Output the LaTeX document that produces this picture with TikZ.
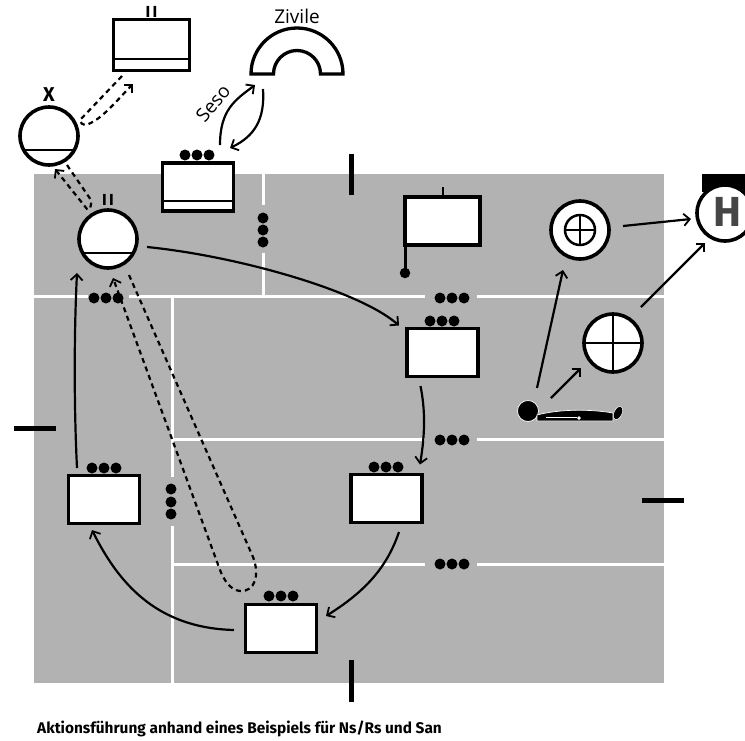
\documentclass[tikz,border=0pt]{standalone}
\usepackage{fontspec}
\setmainfont{Open Sans}
\newfontfamily\captionfont{Fira Sans}
\usetikzlibrary{arrows.meta}
\definecolor{terrain}{gray}{0.7}
\definecolor{hfill}{gray}{0.27}
\tikzset{%
    x=1pt,%
    y=-1pt,%
    >={Straight Barb[length=6pt,width=12pt,line width=1.8pt]},%
    unit/.style={%
        draw=black,%
        fill=white,%
        line width=3.3pt,%
        inner sep=0pt,%
        outer sep=0pt,%
        minimum width=71pt,%
        minimum height=48pt%
    },%
    post/.style={%
        unit,%
        circle,%
        line width=3.6pt,%
        minimum size=58pt%
    },%
    chord/.style={%
        path picture={%
            \draw[line width=2.5pt] ([yshift=-14pt]path picture bounding box.west) -- ([yshift=-14pt]path picture bounding box.east);%
        }%
    },%
    crosshair/.style={%
        path picture={%
            \draw[line width=2pt] (path picture bounding box.west) -- (path picture bounding box.east);%
            \draw[line width=2pt] (path picture bounding box.north) -- (path picture bounding box.south);%
        }%
    },%
    flow/.style={->,line width=2.2pt},%
    assist/.style={->,line width=2.2pt,dash pattern=on 5pt off 4pt},%
    lane/.style={white,line width=3pt},%
    boundary/.style={line width=5pt},%
    dot/.style={circle,fill=black,inner sep=0pt,minimum size=11pt},%
    rank/.style={font=\captionfont\bfseries\fontsize{16}{16}\selectfont,inner sep=0pt}%
}

\begin{document}
\begin{tikzpicture}
    \useasboundingbox (0,0) rectangle (745,740);
    \fill[terrain] (34,174) rectangle (664,683);
    % lanes
    \draw[lane] (263,174) -- (263,205) (263,253) -- (263,296);
    \draw[lane] (34,296) -- (88,296) (129,296) -- (425,296) (477,296) -- (664,296);
    \draw[lane] (172,296) -- (172,477) (172,526) -- (172,683);
    \draw[lane] (172,439) -- (425,439) (477,439) -- (664,439);
    \draw[lane] (172,564) -- (425,564) (477,564) -- (664,564);
    % boundary marks
    \draw[boundary] (351,154) -- (351,195);
    \draw[boundary] (14,428) -- (56,428);
    \draw[boundary] (642,500) -- (684,500);
    \draw[boundary] (351,660) -- (351,702);
    % dots
    \foreach \x/\y in {94/298,106/298,118/298,
        440/298,452/298,464/298,
        440/440,452/440,464/440,
        440/564,452/564,464/564,
        185/155,197/155,209/155,
        430/321,442/321,454/321,
        374/467,386/467,398/467,
        92/468,104/468,116/468,
        269/596,281/596,293/596,
        263/218,263/230,263/242,
        171/489,171/502,171/514} {
        \node[dot] at (\x,\y) {};
    }
    % units
    \node[unit,chord,minimum width=76pt,minimum height=51pt] (staff) at (151.5,45) {};
    \node[unit,chord] (reserve) at (198,187) {};
    \node[post,chord] (command) at (49,136) {};
    \node[post,chord] (battalion) at (108,239) {};
    \node[unit,minimum width=75pt] (flag) at (442.5,221) {};
    \node[unit] (alpha) at (442.5,352.5) {};
    \node[unit] (bravo) at (386.5,498.5) {};
    \node[unit] (charlie) at (281,628.5) {};
    \node[unit] (delta) at (104,499.5) {};
    \node[rank] (staffrank) at (151.5,12) {I\kern2.5pt I};
    \node[rank] (battalionrank) at (108,200) {I\kern2.5pt I};
    \node[font=\captionfont\bfseries\fontsize{20}{20}\selectfont,inner sep=0pt] (commandrank) at (49,95) {X};
    \draw[line width=2pt] (flag.north) -- ++(0,-10);
    \draw[line width=3pt] (flag.south west) -- ++(0,28);
    \node[dot,minimum size=10.5pt] (flagfoot) at (405,273) {};
    % arch
    \draw[unit] (251,74) arc[start angle=180,end angle=360,radius=46] -- (320.5,74)
        arc[start angle=0,end angle=-180,radius=23.5] -- cycle;
    \coordinate (arch) at (297,74);
    \node[font=\fontsize{19}{19}\selectfont,inner sep=0pt] (civil) at (297,16) {Zivile};
    \node[font=\fontsize{19}{19}\selectfont,inner sep=0pt,rotate=50] (link) at (213,103) {Seso};
    % medical
    \fill[black] (702,174) rectangle (745,192);
    \node[post,minimum size=56pt] (hospital) at (725,213) {};
    \node[text=hfill,font=\captionfont\fontsize{42}{42}\selectfont\bfseries,inner sep=0pt] (hletter) at (727,212) {H};
    \node[post] (clearing) at (580,230) {};
    \node[unit,circle,crosshair,line width=2.5pt,minimum size=30pt] (clearingcross) at (580,230) {};
    \node[post,crosshair] (aidpost) at (613,343) {};
    \node[circle,fill=black,draw=white,line width=0.7pt,inner sep=0pt,minimum size=21pt] (casualty) at (528,411) {};
    \draw[fill=black,draw=white,line width=0.7pt] (537,421) -- (537,415)
        .. controls (560,409) and (590,409) .. (613,413) -- (613,421) -- cycle;
    \draw[white,line width=1pt] (546,417.5) -- (577,417.5);
    \draw[fill=white,draw=white] (579,418) circle[radius=1.5];
    \fill[black,draw=white,line width=0.5pt,rotate around={-25:(618,413)}] (618,413) ellipse[x radius=4,y radius=7];
    % connectors
    \draw[flow] ([shift={(39,8)}]battalion.center)
        .. controls +(90,9) and +(-40,-35) .. ([shift={(-8,-3)}]alpha.north west);
    \draw[flow] ([shift={(-22,33.5)}]alpha.center)
        .. controls +(5,25) and +(5,-30) .. ([shift={(33.5,-34)}]bravo.center);
    \draw[flow] ([shift={(12.5,33.5)}]bravo.center)
        .. controls +(-12,35) and +(40,-25) .. ([shift={(45,-12.5)}]charlie.center);
    \draw[flow] ([shift={(-47,1.5)}]charlie.center)
        .. controls +(-80,-2) and +(25,50) .. ([shift={(-12,30.5)}]delta.center);
    \draw[flow] ([shift={(-27,-31.5)}]delta.center)
        .. controls +(-3,-60) and +(-3,60) .. ([shift={(-31,34)}]battalion.center);
    \draw[flow] ([shift={(22,-42)}]reserve.center)
        .. controls +(0,-35) and +(-20,15) .. ([shift={(-42,11)}]arch);
    \draw[flow] ([shift={(-34,15)}]arch)
        .. controls +(2,30) and +(25,-12) .. ([shift={(32,-39)}]reserve.center);
    \draw[flow] ([shift={(9,-23)}]casualty.center) -- ([shift={(-17,40)}]clearing.center);
    \draw[flow] ([shift={(23,-13)}]casualty.center) -- ([shift={(-32,25)}]aidpost.center);
    \draw[flow] ([shift={(43,-4)}]clearing.center) -- ([shift={(-34,6)}]hospital.center);
    \draw[flow] ([shift={(28,-36)}]aidpost.center) -- ([shift={(-20,30)}]hospital.center);
    \draw[assist] ([shift={(-29.5,31)}]staff.center) -- ([shift={(31,-16)}]command.center)
        .. controls +(0,3) and +(-2,0) .. ([shift={(36,-11)}]command.center)
        .. controls +(15,-3) and +(-15,15) .. ([shift={(-18.5,39)}]staff.center);
    \draw[assist] ([shift={(18,29)}]command.center) -- ([shift={(-17,-39)}]battalion.center)
        .. controls +(1,6) and +(2,3) .. ([shift={(-21,-30)}]battalion.center)
        -- ([shift={(6,33)}]command.center);
    \draw[assist] ([shift={(21,36)}]battalion.center) -- ([shift={(-28,-71.5)}]charlie.center)
        .. controls +(7,18) and +(15,1) .. ([shift={(-41,-37.5)}]charlie.center)
        .. controls +(-10,-1) and +(4,10) .. ([shift={(-61,-58.5)}]charlie.center)
        -- ([shift={(5,39)}]battalion.center);
    % caption
    \node[anchor=west,inner sep=0pt,font=\captionfont\bfseries\fontsize{15.4}{15.4}\selectfont] (caption) at (37,729) {Aktionsführung anhand eines Beispiels für Ns/Rs und San};
\end{tikzpicture}
\end{document}
